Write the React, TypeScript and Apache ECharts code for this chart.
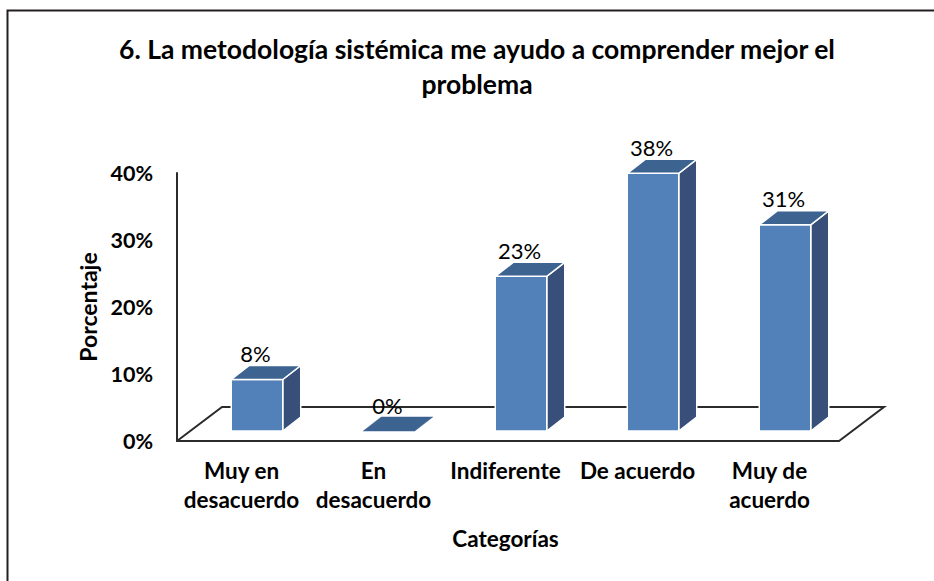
import React, { useEffect, useRef } from "react";
import * as echarts from "echarts";

const titleText = "6. La metodología sistémica me ayudo a comprender mejor el\nproblema";
const categories = ["Muy en\ndesacuerdo", "En\ndesacuerdo", "Indiferente", "De acuerdo", "Muy de\nacuerdo"];
const values = [7.69, 0, 23.08, 38.46, 30.77];
const yTicks = [0, 10, 20, 30, 40];
const xName = "Categorías";
const yName = "Porcentaje";

const FONT = "Lato, Carlito, Calibri, sans-serif";
const GRID = { left: 177, top: 173, width: 660, height: 268 };
const FLOOR = { dx: 45, dy: 34, extra: 2 };
const BAR = { dx: 18, dy: 14, lift: 10, widthRatio: 0.39, shift: 14 };
const COLORS = { front: "#5280b8", top: "#3d6391", side: "#385079", line: "#2b2b2b", text: "#000000" };

function renderBar(_params: any, api: any) {
  const value = api.value(1) as number;
  const [cx, yTop0] = api.coord([api.value(0), value]);
  const [, yBase0] = api.coord([api.value(0), 0]);
  const w = api.size([1, 0])[0] * BAR.widthRatio;
  const x0 = cx + BAR.shift - w / 2;
  const x1 = x0 + w;
  const yTop = yTop0 - BAR.lift;
  const yBase = yBase0 - BAR.lift;
  const white = { stroke: "#ffffff", lineWidth: 1.5 };
  const children: any[] = [];
  if (value > 0) {
    children.push({
      type: "polygon",
      shape: { points: [[x1, yTop], [x1 + BAR.dx, yTop - BAR.dy], [x1 + BAR.dx, yBase - BAR.dy], [x1, yBase]] },
      style: { fill: COLORS.side, ...white },
    });
    children.push({
      type: "rect",
      shape: { x: x0, y: yTop, width: w, height: yBase - yTop },
      style: { fill: COLORS.front, ...white },
    });
  }
  children.push({
    type: "polygon",
    shape: { points: [[x0, yTop], [x0 + BAR.dx, yTop - BAR.dy], [x1 + BAR.dx, yTop - BAR.dy], [x1, yTop]] },
    style: { fill: COLORS.top, ...(value > 0 ? white : { stroke: COLORS.top, lineWidth: 0.5 }) },
  });
  children.push({
    type: "text",
    z2: 10,
    style: {
      x: (x0 + x1) / 2 - 1.5,
      y: yTop - 26,
      text: `${Math.round(value)}%`,
      fill: COLORS.text,
      fontFamily: FONT,
      fontSize: 22,
      fontWeight: 400,
      align: "center",
      verticalAlign: "middle",
    },
  });
  return { type: "group", children };
}

export default function App() {
  const ref = useRef<HTMLDivElement>(null);
  useEffect(() => {
    const chart = echarts.init(ref.current!, undefined, { renderer: "svg" });
    const fL = GRID.left;
    const fR = GRID.left + GRID.width + FLOOR.extra;
    const fB = GRID.top + GRID.height;
    chart.setOption({
      animation: false,
      backgroundColor: "#ffffff",
      title: {
        text: titleText,
        left: 472,
        top: 26,
        textAlign: "center",
        textStyle: { fontFamily: FONT, fontWeight: 700, fontSize: 26.5, lineHeight: 35, color: COLORS.text },
      },
      grid: { ...GRID, containLabel: false },
      xAxis: {
        type: "category",
        data: categories,
        name: xName,
        nameLocation: "middle",
        nameGap: 86,
        nameTextStyle: { fontFamily: FONT, fontWeight: 700, fontSize: 22.5, color: COLORS.text, padding: [0, 3, 0, 0] },
        axisLine: { show: true, lineStyle: { color: COLORS.line, width: 2 } },
        axisTick: { show: false },
        axisLabel: {
          interval: 0,
          margin: 15,
          padding: [0, 3, 0, 0],
          fontFamily: FONT,
          fontWeight: 700,
          fontSize: 22.5,
          lineHeight: 29,
          color: COLORS.text,
        },
      },
      yAxis: {
        type: "value",
        min: yTicks[0],
        max: yTicks[yTicks.length - 1],
        interval: yTicks[1] - yTicks[0],
        name: yName,
        nameLocation: "middle",
        nameGap: 78,
        nameTextStyle: { fontFamily: FONT, fontWeight: 700, fontSize: 23, color: COLORS.text },
        axisLine: { show: true, lineStyle: { color: COLORS.line, width: 2 } },
        axisTick: { show: false },
        splitLine: { show: false },
        axisLabel: {
          margin: 24,
          formatter: "{value}%",
          fontFamily: FONT,
          fontWeight: 700,
          fontSize: 21.5,
          color: COLORS.text,
        },
      },
      graphic: [
        {
          type: "polyline",
          z: 0,
          silent: true,
          shape: { points: [[fL, fB], [fL + FLOOR.dx, fB - FLOOR.dy], [fR + FLOOR.dx, fB - FLOOR.dy], [fR, fB], [fL, fB]] },
          style: { stroke: COLORS.line, lineWidth: 2, fill: "none" },
        },
        {
          type: "polyline",
          z: 0,
          silent: true,
          shape: { points: [[7.5, 581], [7.5, 10.5], [934, 10.5]] },
          style: { stroke: "#231f20", lineWidth: 2, fill: "none" },
        },
      ],
      series: [
        {
          type: "custom",
          coordinateSystem: "cartesian2d",
          renderItem: renderBar,
          encode: { x: 0, y: 1 },
          clip: false,
          z: 5,
          data: values.map((v, i) => [i, v]),
        },
      ],
    });
    return () => chart.dispose();
  }, []);
  return <div ref={ref} style={{ position: "absolute", left: 0, top: 0, width: 934, height: 581 }} />;
}
